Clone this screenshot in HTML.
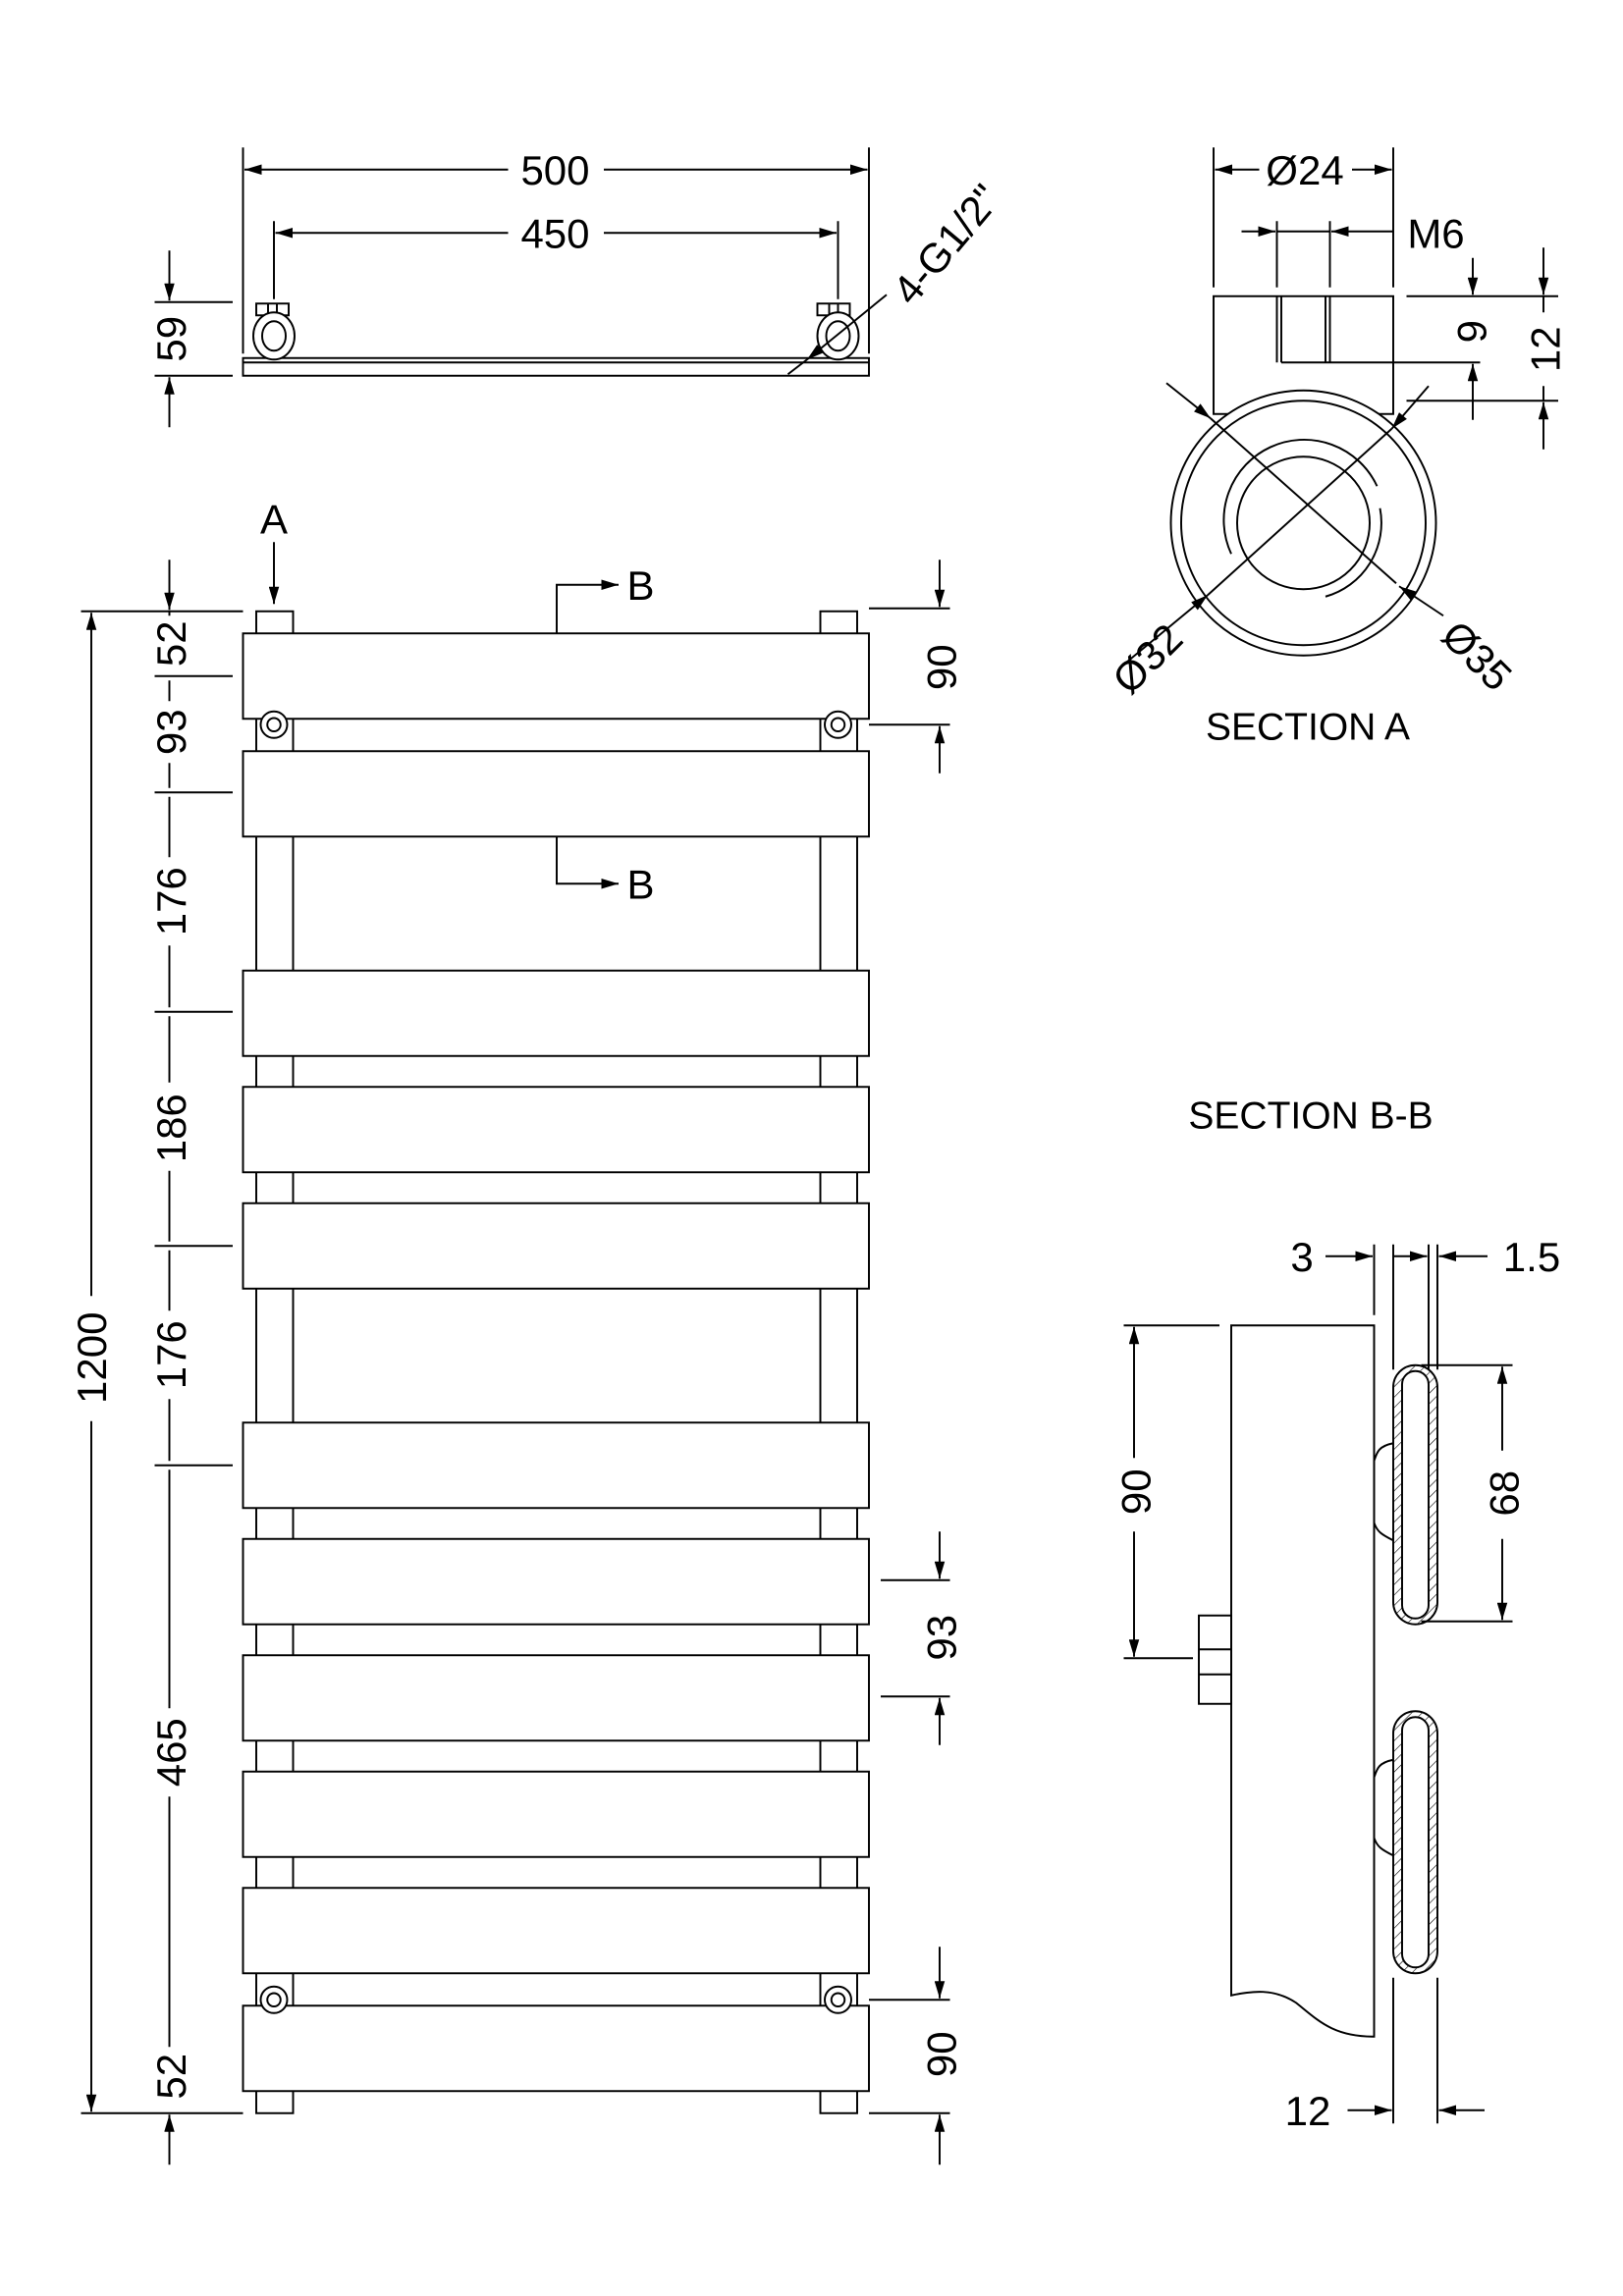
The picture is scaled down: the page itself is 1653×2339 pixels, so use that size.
<!DOCTYPE html>
<html><head><meta charset="utf-8"><style>html,body{margin:0;padding:0;background:#fff}svg{display:block}</style></head>
<body>
<svg width="1653" height="2339" viewBox="0 0 1102 1559" xmlns="http://www.w3.org/2000/svg" font-family="Liberation Sans, DejaVu Sans, sans-serif" font-size="28">
<defs>
<marker id="a" viewBox="0 0 10 6" refX="10" refY="3" markerWidth="14" markerHeight="7" markerUnits="userSpaceOnUse" orient="auto"><path d="M0,0L10,3L0,6Z" fill="#000"/></marker>
<pattern id="h" width="5" height="5" patternUnits="userSpaceOnUse" patternTransform="rotate(45)"><line x1="0" y1="0" x2="0" y2="5" stroke="#000" stroke-width="0.8"/></pattern>
</defs>
<g fill="none" stroke="#000" stroke-width="1.3">
<!-- TOP VIEW -->
<line x1="165" y1="100" x2="165" y2="240"/><line x1="590" y1="100" x2="590" y2="240"/>
<line x1="345" y1="115" x2="166" y2="115" marker-end="url(#a)"/><line x1="410" y1="115" x2="589" y2="115" marker-end="url(#a)"/>
<line x1="186" y1="150" x2="186" y2="203"/><line x1="569" y1="150" x2="569" y2="203"/>
<line x1="345" y1="158" x2="187" y2="158" marker-end="url(#a)"/><line x1="410" y1="158" x2="568" y2="158" marker-end="url(#a)"/>
<rect x="165" y="243" width="425" height="12"/><line x1="165" y1="246" x2="590" y2="246"/>
<rect x="174" y="206" width="22" height="8"/><line x1="182" y1="206" x2="182" y2="214"/><line x1="188" y1="206" x2="188" y2="214"/>
<rect x="555" y="206" width="22" height="8"/><line x1="563" y1="206" x2="563" y2="214"/><line x1="569" y1="206" x2="569" y2="214"/>
<ellipse cx="186" cy="228" rx="14" ry="16" fill="#fff"/><ellipse cx="186" cy="228" rx="8" ry="10"/>
<ellipse cx="569" cy="228" rx="14" ry="16" fill="#fff"/><ellipse cx="569" cy="228" rx="8" ry="10"/>
<line x1="105" y1="205" x2="158" y2="205"/><line x1="105" y1="255" x2="158" y2="255"/>
<line x1="115" y1="170" x2="115" y2="204" marker-end="url(#a)"/><line x1="115" y1="290" x2="115" y2="256" marker-end="url(#a)"/>
<line x1="602" y1="200" x2="548" y2="244" marker-end="url(#a)"/><line x1="548" y1="244" x2="535" y2="254"/>
<!-- MAIN VIEW rails -->
<rect x="174" y="415" width="25" height="1020"/><rect x="557" y="415" width="25" height="1020"/>
<g fill="#fff">
<rect x="165" y="430" width="425" height="58"/><rect x="165" y="510" width="425" height="58"/>
<rect x="165" y="659" width="425" height="58"/><rect x="165" y="738" width="425" height="58"/>
<rect x="165" y="817" width="425" height="58"/><rect x="165" y="966" width="425" height="58"/>
<rect x="165" y="1045" width="425" height="58"/><rect x="165" y="1124" width="425" height="58"/>
<rect x="165" y="1203" width="425" height="58"/><rect x="165" y="1282" width="425" height="58"/>
<rect x="165" y="1362" width="425" height="58"/>
<circle cx="186" cy="492" r="9"/><circle cx="569" cy="492" r="9"/>
<circle cx="186" cy="1358" r="9"/><circle cx="569" cy="1358" r="9"/>
</g>
<circle cx="186" cy="492" r="4.5"/><circle cx="569" cy="492" r="4.5"/>
<circle cx="186" cy="1358" r="4.5"/><circle cx="569" cy="1358" r="4.5"/>
<!-- A / B markers -->
<line x1="186" y1="368" x2="186" y2="410" marker-end="url(#a)"/>
<polyline points="378,430 378,397 395,397"/><line x1="395" y1="397" x2="420" y2="397" marker-end="url(#a)"/>
<polyline points="378,568 378,600 395,600"/><line x1="395" y1="600" x2="420" y2="600" marker-end="url(#a)"/>
<!-- left dims -->
<line x1="55" y1="415" x2="165" y2="415"/><line x1="55" y1="1435" x2="165" y2="1435"/>
<line x1="62" y1="880" x2="62" y2="416" marker-end="url(#a)"/><line x1="62" y1="965" x2="62" y2="1434" marker-end="url(#a)"/>
<line x1="115" y1="380" x2="115" y2="414" marker-end="url(#a)"/><line x1="115" y1="1470" x2="115" y2="1436" marker-end="url(#a)"/>
<line x1="105" y1="459" x2="158" y2="459"/><line x1="105" y1="538" x2="158" y2="538"/>
<line x1="105" y1="687" x2="158" y2="687"/><line x1="105" y1="846" x2="158" y2="846"/>
<line x1="105" y1="995" x2="158" y2="995"/>
<line x1="115" y1="415" x2="115" y2="418"/>
<line x1="115" y1="462" x2="115" y2="476"/><line x1="115" y1="518" x2="115" y2="535"/>
<line x1="115" y1="541" x2="115" y2="582"/><line x1="115" y1="642" x2="115" y2="684"/>
<line x1="115" y1="690" x2="115" y2="735"/><line x1="115" y1="795" x2="115" y2="843"/>
<line x1="115" y1="849" x2="115" y2="890"/><line x1="115" y1="950" x2="115" y2="992"/>
<line x1="115" y1="998" x2="115" y2="1160"/><line x1="115" y1="1220" x2="115" y2="1390"/>
<!-- right dims -->
<line x1="590" y1="413" x2="645" y2="413"/><line x1="590" y1="492" x2="645" y2="492"/>
<line x1="638" y1="380" x2="638" y2="412" marker-end="url(#a)"/><line x1="638" y1="525" x2="638" y2="493" marker-end="url(#a)"/>
<line x1="598" y1="1073" x2="645" y2="1073"/><line x1="598" y1="1152" x2="645" y2="1152"/>
<line x1="638" y1="1040" x2="638" y2="1072" marker-end="url(#a)"/><line x1="638" y1="1185" x2="638" y2="1153" marker-end="url(#a)"/>
<line x1="590" y1="1358" x2="645" y2="1358"/><line x1="590" y1="1435" x2="645" y2="1435"/>
<line x1="638" y1="1322" x2="638" y2="1357" marker-end="url(#a)"/><line x1="638" y1="1470" x2="638" y2="1436" marker-end="url(#a)"/>
<!-- SECTION A -->
<line x1="824" y1="100" x2="824" y2="195"/><line x1="946" y1="100" x2="946" y2="195"/>
<line x1="855" y1="115" x2="825" y2="115" marker-end="url(#a)"/><line x1="918" y1="115" x2="945" y2="115" marker-end="url(#a)"/>
<line x1="867" y1="150" x2="867" y2="195"/><line x1="903" y1="150" x2="903" y2="195"/>
<line x1="843" y1="157" x2="866" y2="157" marker-end="url(#a)"/><line x1="946" y1="157" x2="904" y2="157" marker-end="url(#a)"/><line x1="867" y1="157" x2="903" y2="157"/>
<rect x="824" y="201" width="122" height="80"/>
<line x1="867" y1="201" x2="867" y2="246"/><line x1="870" y1="201" x2="870" y2="246"/>
<line x1="900" y1="201" x2="900" y2="246"/><line x1="903" y1="201" x2="903" y2="246"/>
<line x1="870" y1="246" x2="1005" y2="246"/>
<line x1="955" y1="201" x2="1058" y2="201"/><line x1="955" y1="272" x2="1058" y2="272"/>
<circle cx="885" cy="355" r="90" fill="#fff"/><circle cx="885" cy="355" r="83"/>
<circle cx="885" cy="355" r="45"/>
<path d="M836,376 A52,52 0 0 1 935,330"/>
<path d="M900,405 A52,52 0 0 0 937,345"/>
<line x1="1000" y1="175" x2="1000" y2="200" marker-end="url(#a)"/><line x1="1000" y1="285" x2="1000" y2="247" marker-end="url(#a)"/>
<line x1="1048" y1="168" x2="1048" y2="200" marker-end="url(#a)"/><line x1="1048" y1="305" x2="1048" y2="273" marker-end="url(#a)"/>
<line x1="1048" y1="201" x2="1048" y2="212"/><line x1="1048" y1="262" x2="1048" y2="272"/>
<line x1="792" y1="260" x2="822" y2="284" marker-end="url(#a)"/><line x1="822" y1="284" x2="948" y2="396"/><line x1="980" y1="418" x2="950" y2="398" marker-end="url(#a)"/>
<line x1="762" y1="452" x2="820" y2="404" marker-end="url(#a)"/><line x1="820" y1="404" x2="945" y2="291"/><line x1="970" y1="262" x2="945" y2="291" marker-end="url(#a)"/>
<!-- SECTION B-B -->
<path d="M836,900 L933,900 L933,1383 C905,1383 895,1372 880,1360 C865,1350 850,1352 836,1355 Z"/>
<rect x="814" y="1097" width="22" height="60"/><line x1="814" y1="1120" x2="836" y2="1120"/><line x1="814" y1="1137" x2="836" y2="1137"/>
<line x1="763" y1="900" x2="828" y2="900"/><line x1="763" y1="1126" x2="810" y2="1126"/>
<line x1="770" y1="990" x2="770" y2="901" marker-end="url(#a)"/><line x1="770" y1="1040" x2="770" y2="1125" marker-end="url(#a)"/>
<line x1="933" y1="845" x2="933" y2="893"/><line x1="946" y1="845" x2="946" y2="930"/>
<line x1="970" y1="845" x2="970" y2="930"/><line x1="976" y1="845" x2="976" y2="930"/>
<line x1="900" y1="853" x2="932" y2="853" marker-end="url(#a)"/><line x1="946" y1="853" x2="969" y2="853" marker-end="url(#a)"/><line x1="1010" y1="853" x2="977" y2="853" marker-end="url(#a)"/>
<rect x="946" y="927" width="30" height="176" rx="15" fill="url(#h)"/><rect x="952" y="931" width="18" height="168" rx="9" fill="#fff"/>
<rect x="946" y="1162" width="30" height="178" rx="15" fill="url(#h)"/><rect x="952" y="1166" width="18" height="170" rx="9" fill="#fff"/>
<path d="M946,980 C936,982 935,986 933,992 L933,1034 C935,1040 938,1042 946,1046"/>
<path d="M946,1195 C936,1197 935,1201 933,1207 L933,1248 C935,1254 938,1256 946,1260"/>
<line x1="965" y1="927" x2="1027" y2="927"/><line x1="965" y1="1101" x2="1027" y2="1101"/>
<line x1="1020" y1="985" x2="1020" y2="928" marker-end="url(#a)"/><line x1="1020" y1="1045" x2="1020" y2="1100" marker-end="url(#a)"/>
<line x1="946" y1="1343" x2="946" y2="1442"/><line x1="976" y1="1343" x2="976" y2="1442"/>
<line x1="915" y1="1433" x2="945" y2="1433" marker-end="url(#a)"/><line x1="1008" y1="1433" x2="977" y2="1433" marker-end="url(#a)"/>
</g>
<g fill="#000" text-anchor="middle">
<text x="377" y="125">500</text><text x="377" y="168">450</text>
<text transform="translate(126,230) rotate(-90)">59</text>
<text transform="translate(650,172) rotate(-50)">4-G1/2"</text>
<text x="186" y="362">A</text>
<text x="435" y="407">B</text><text x="435" y="610">B</text>
<text transform="translate(72,922) rotate(-90)">1200</text>
<text transform="translate(126,437) rotate(-90)">52</text>
<text transform="translate(126,497) rotate(-90)">93</text>
<text transform="translate(126,612) rotate(-90)">176</text>
<text transform="translate(126,766) rotate(-90)">186</text>
<text transform="translate(126,920) rotate(-90)">176</text>
<text transform="translate(126,1190) rotate(-90)">465</text>
<text transform="translate(126,1410) rotate(-90)">52</text>
<text transform="translate(649,453) rotate(-90)">90</text>
<text transform="translate(649,1112) rotate(-90)">93</text>
<text transform="translate(649,1395) rotate(-90)">90</text>
<text x="886" y="125">Ø24</text>
<text x="975" y="168">M6</text>
<text transform="translate(1009,225) rotate(-90)">9</text>
<text transform="translate(1059,237) rotate(-90)">12</text>
<text transform="translate(786,454) rotate(-45)">Ø32</text>
<text transform="translate(996,452) rotate(45)">Ø35</text>
<text x="888" y="502" font-size="26">SECTION A</text>
<text x="890" y="766" font-size="26">SECTION B-B</text>
<text x="884" y="863">3</text><text x="1040" y="863">1.5</text>
<text transform="translate(781,1013) rotate(-90)">90</text>
<text transform="translate(1031,1014) rotate(-90)">68</text>
<text x="888" y="1443">12</text>
</g>
</svg>
</body></html>
